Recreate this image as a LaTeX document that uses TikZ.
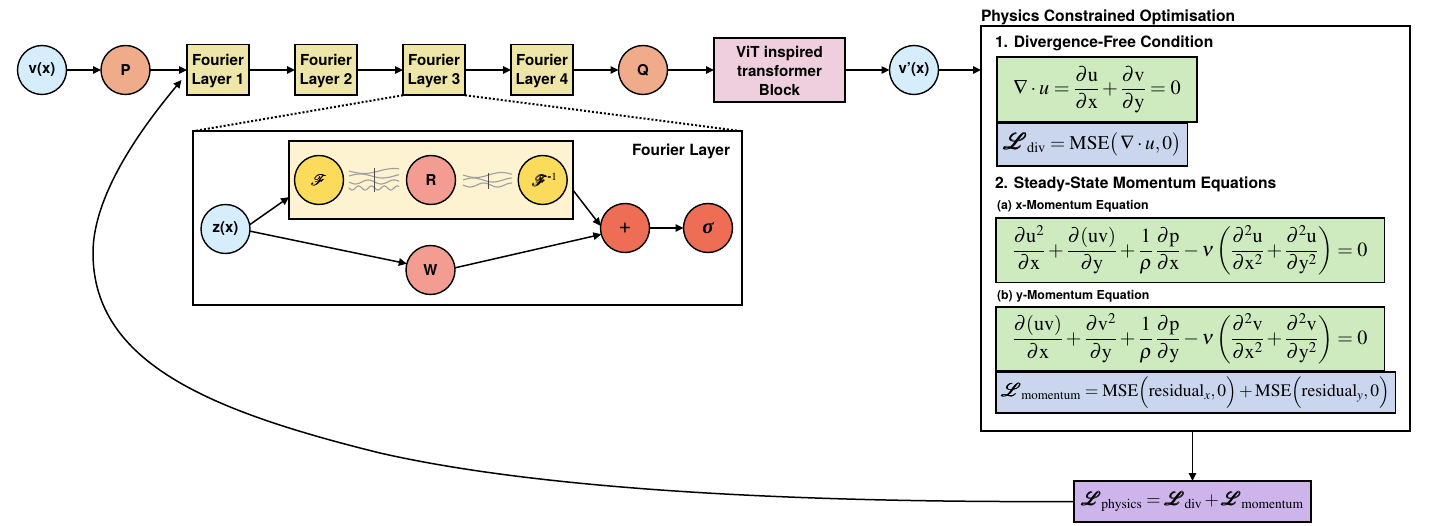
\documentclass[tikz,border=0pt]{standalone}
\usepackage{amsmath}
\usepackage{graphicx}
\usepackage{mathptmx}
\usepackage{mathrsfs}
\usepackage{fontspec}
\setmainfont{Liberation Serif}
\setsansfont{TeX Gyre Heros}
\usetikzlibrary{arrows.meta,calc}
\definecolor{cin}{HTML}{D6EEFC}
\definecolor{csal}{HTML}{F0AB8B}
\definecolor{cfou}{HTML}{EEE6A8}
\definecolor{cvit}{HTML}{EFCFDD}
\definecolor{cgrn}{HTML}{CEEBC0}
\definecolor{cblu}{HTML}{C9D6EE}
\definecolor{cpur}{HTML}{CDB5EC}
\definecolor{cyel}{HTML}{FADB5B}
\definecolor{crose}{HTML}{F29C92}
\definecolor{cred}{HTML}{EE6E55}
\definecolor{cbg}{HTML}{FDF3D0}
\newcommand{\lab}[1]{\fontsize{#1}{19}\selectfont\sffamily\bfseries}
\newcommand{\eqs}[1]{\fontsize{#1}{22}\selectfont}
\newcommand{\LL}{\pmb{\scalebox{1.08}{$\mathscr{L}$}}}
\newcommand{\FF}{\pmb{\scalebox{1.05}{$\mathscr{F}$}}}
\newcommand{\dd}{\partial}
\newcommand{\rmm}[1]{\mathrm{#1}}
\tikzset{
  x=1bp,y=-1bp,
  every node/.style={inner sep=0pt,outer sep=0pt},
  circ/.style={circle,draw=black,line width=1.4bp,minimum size=49bp,font=\lab{15}},
  fbox/.style={rectangle,draw=black,line width=1.5bp,fill=cfou,minimum width=62bp,minimum height=50.5bp},
  ftext/.style={label={[align=center,font=\lab{15.2},yshift=-1.3bp]center:#1}},
  panel/.style={rectangle,draw=black,line width=1.5bp},
  eqbox/.style={panel,align=center},
  title/.style={anchor=west,font=\lab{15.7}},
  subtitle/.style={anchor=west,font=\lab{12.4}},
  arr/.style={-{Triangle[length=8bp,width=7.5bp]},line width=1.5bp},
  wave/.style={line width=1.1bp,draw=black!38},
  dots/.style={line width=2bp,dash pattern=on 2bp off 2bp},
}
\begin{document}
\begin{tikzpicture}
\useasboundingbox (0,0) rectangle (1452,526);
% top row
\node[circ,fill=cin] (v) at (42,70) {v(x)};
\node[circ,fill=csal] (p) at (125.5,70) {P};
\node[fbox,ftext={Fourier\\Layer 1}] (f1) at (218,70) {};
\node[fbox,ftext={Fourier\\Layer 2}] (f2) at (326,70) {};
\node[fbox,ftext={Fourier\\Layer 3}] (f3) at (434,70) {};
\node[fbox,ftext={Fourier\\Layer 4}] (f4) at (542,70) {};
\node[circ,fill=csal] (q) at (643,70) {Q};
\node[fbox,fill=cvit,minimum width=131bp,minimum height=64bp,ftext={ViT inspired\\transformer\\Block}] (vit) at (779.5,70) {};
\node[circ,fill=cin] (vp) at (914,70) {v'(x)};
% physics panel
\node[panel,minimum width=429bp,minimum height=405bp] (phys) at (1195.5,228.5) {};
\node[title] (ptitle) at (981,17) {Physics Constrained Optimisation};
\node[title] (t1) at (995,43) {1. Divergence-Free Condition};
\node[eqbox,fill=cgrn,minimum width=200bp,minimum height=65bp] (e1) at (1097,89.5) {\eqs{20.4}$\displaystyle \nabla\cdot u=\frac{\dd\rmm{u}}{\dd\rmm{x}}+\frac{\dd\rmm{v}}{\dd\rmm{y}}=0$};
\node[eqbox,fill=cblu,minimum width=190.5bp,minimum height=43bp] (b1) at (1092.2,144.5) {\eqs{19.5}$\displaystyle \LL_{\rmm{div}}=\rmm{MSE}\bigl(\,\nabla\cdot u,0\bigr)$};
\node[title] (t2) at (995,184) {2. Steady-State Momentum Equations};
\node[subtitle] (ta) at (997,206.7) {(a) x-Momentum Equation};
\node[eqbox,fill=cgrn,minimum width=388.5bp,minimum height=64.5bp] (e2) at (1190,250.3) {\eqs{20.2}$\displaystyle \frac{\dd\rmm{u}^{2}}{\dd\rmm{x}}+\frac{\dd(\rmm{uv})}{\dd\rmm{y}}+\frac{1}{\rho}\,\frac{\dd\rmm{p}}{\dd\rmm{x}}-\nu\left(\frac{\dd^{2}\rmm{u}}{\dd\rmm{x}^{2}}+\frac{\dd^{2}\rmm{u}}{\dd\rmm{y}^{2}}\right)=0$};
\node[subtitle] (tb) at (997,296.7) {(b) y-Momentum Equation};
\node[eqbox,fill=cgrn,minimum width=388.5bp,minimum height=63.5bp] (e3) at (1190,338.5) {\eqs{20.2}$\displaystyle \frac{\dd(\rmm{uv})}{\dd\rmm{x}}+\frac{\dd\rmm{v}^{2}}{\dd\rmm{y}}+\frac{1}{\rho}\,\frac{\dd\rmm{p}}{\dd\rmm{y}}-\nu\left(\frac{\dd^{2}\rmm{v}}{\dd\rmm{x}^{2}}+\frac{\dd^{2}\rmm{v}}{\dd\rmm{y}^{2}}\right)=0$};
\node[eqbox,fill=cblu,minimum width=399.5bp,minimum height=41bp] (b3) at (1195.5,392.5) {\eqs{17.6}$\displaystyle \LL_{\rmm{momentum}}=\rmm{MSE}\Bigl(\rmm{residual}_{x},0\Bigr)+\rmm{MSE}\Bigl(\rmm{residual}_{y},0\Bigr)$};
\node[eqbox,fill=cpur,minimum width=237bp,minimum height=41bp] (tot) at (1192.5,501.5) {\eqs{18.4}$\displaystyle \LL_{\rmm{physics}}=\LL_{\rmm{div}}+\LL_{\rmm{momentum}}$};
% Fourier layer detail
\node[panel,minimum width=549bp,minimum height=173.5bp] (fl) at (467.5,218) {};
\node[anchor=east,font=\lab{15.5}] (fltitle) at (730,151) {Fourier Layer};
\node[panel,fill=cbg,minimum width=284bp,minimum height=78bp] (yb) at (431,180) {};
\node[circ,fill=cyel] (ft) at (319,180) {$\FF$};
\node[circ,fill=crose] (r) at (431,180) {R};
\node[circ,fill=cyel] (ift) at (542.7,180) {\hspace*{4bp}$\FF^{\text{-}1}$};
\node[circ,fill=cin] (z) at (225.5,229) {z(x)};
\node[circ,fill=crose] (w) at (430.5,270) {W};
\node[circ,fill=cred,font=\fontsize{22}{22}\selectfont\sffamily\mdseries] (plus) at (625,228) {+};
\node[circ,fill=cred] (sig) at (708,228) {\fontsize{21}{21}\selectfont\rmfamily\bfseries\itshape σ};
% waves
\draw[wave] plot[domain=349:399,samples=30] (\x,{171+2.5*sin(6*(\x-349))});
\draw[wave] plot[domain=349:399,samples=40] (\x,{176-2*sin(8*(\x-349))});
\draw[wave] plot[domain=349:399,samples=50] (\x,{182+2*sin(14*(\x-349))});
\draw[wave] plot[domain=349:399,samples=70] (\x,{188+2*sin(28*(\x-349))});
\draw[line width=0.7bp,black!70] (374,168) -- (374,192);
\draw[wave] plot[domain=463:512,samples=30] (\x,{175+2.5*sin(7*(\x-463))});
\draw[wave] plot[domain=463:512,samples=30] (\x,{180-2*sin(9*(\x-463))});
\draw[wave] plot[domain=463:512,samples=40] (\x,{185+2*sin(13*(\x-463))});
\draw[line width=0.7bp,black!70] (488,173) -- (488,189);
% connectors
\draw[arr] (v) -- (p);
\draw[arr] (p) -- (f1);
\draw[arr] (f1) -- (f2);
\draw[arr] (f2) -- (f3);
\draw[arr] (f3) -- (f4);
\draw[arr] (f4) -- (q);
\draw[arr] (q) -- (vit);
\draw[arr] (vit) -- (vp);
\draw[arr] (vp) -- (vp -| phys.west);
\draw[arr] (phys.south -| tot.north) -- (tot.north);
\draw[dots] (f3.south west) -- (fl.north west);
\draw[dots] (f3.south east) -- (fl.north east);
\draw[arr] (z.10) -- ($(yb.south west)!.28!(yb.north west)$);
\draw[arr] (z.-5) -- (w.165);
\draw[arr] (w.5) -- (plus.195);
\draw[arr] ($(yb.south east)!.37!(yb.north east)$) -- (plus.175);
\draw[arr] (plus) -- (sig);
\coordinate (loopend) at (181.5,80);
\draw[arr] (tot.west) .. controls (750,503) and (520,485) .. (380,453) .. controls (210,411) and (93,363) .. (93,253) .. controls (93,190) and (150,118) .. (loopend);
\end{tikzpicture}
\end{document}
